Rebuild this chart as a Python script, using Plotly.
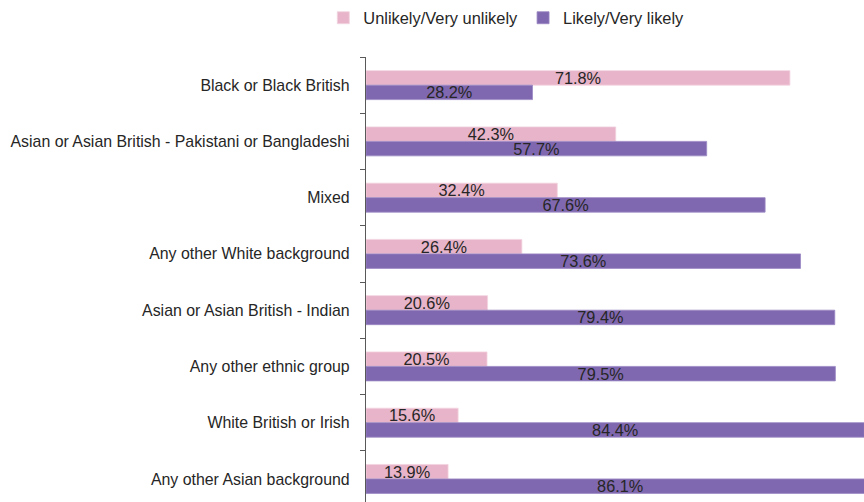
import plotly.graph_objects as go

categories = [
    "Black or Black British",
    "Asian or Asian British - Pakistani or Bangladeshi",
    "Mixed",
    "Any other White background",
    "Asian or Asian British - Indian",
    "Any other ethnic group",
    "White British or Irish",
    "Any other Asian background",
]
unlikely = [71.8, 42.3, 32.4, 26.4, 20.6, 20.5, 15.6, 13.9]
likely = [28.2, 57.7, 67.6, 73.6, 79.4, 79.5, 84.4, 86.1]
series_names = ["Unlikely/Very unlikely", "Likely/Very likely"]

PINK = "#E8B4C9"
PURPLE = "#8068B0"
TEXT = "#262626"
FONT = "Liberation Sans"

fig = go.Figure()
for name, vals, col, lc in [
    (series_names[0], unlikely, PINK, "#F2D3DF"),
    (series_names[1], likely, PURPLE, "#9A88C4"),
]:
    fig.add_trace(go.Bar(
        y=categories, x=vals, name=name, orientation="h",
        marker=dict(color=col, line=dict(color=lc, width=0.8)),
        texttemplate="%{x:.1f}%", textposition="inside",
        insidetextanchor="middle",
        textfont=dict(family=FONT, size=16.3, color=TEXT),
        constraintext="none",
    ))

fig.update_layout(
    width=864, height=502,
    margin=dict(l=366, r=0, t=57, b=0, autoexpand=False),
    paper_bgcolor="white", plot_bgcolor="white",
    barmode="group", bargap=0.485, bargroupgap=0,
    font=dict(family=FONT, size=16, color=TEXT),
    uniformtext=dict(mode="show", minsize=16.3),
    showlegend=True,
    legend=dict(orientation="h", xref="container", yref="container",
                x=0.586, xanchor="center", y=0.964, yanchor="middle",
                font=dict(family=FONT, size=16.4, color=TEXT), itemwidth=30,
                traceorder="normal"),
)
fig.update_xaxes(range=[0, 84.35], visible=False, showgrid=False, zeroline=False)
fig.update_yaxes(
    type="category", categoryorder="array", categoryarray=categories,
    range=[7.41, -0.5], automargin=False,
    showline=True, linecolor="#595959", linewidth=1.3,
    ticks="outside", tickson="boundaries", ticklen=5, tickcolor="#595959",
    showgrid=False, zeroline=False,
    ticklabelstandoff=12,
    tickfont=dict(family=FONT, size=15.9, color=TEXT),
)

fig.write_html(
    "out.html",
    config={"displayModeBar": False},
    post_script="document.body.style.margin='0';document.documentElement.style.overflow='hidden';document.body.style.overflow='hidden';",
)
